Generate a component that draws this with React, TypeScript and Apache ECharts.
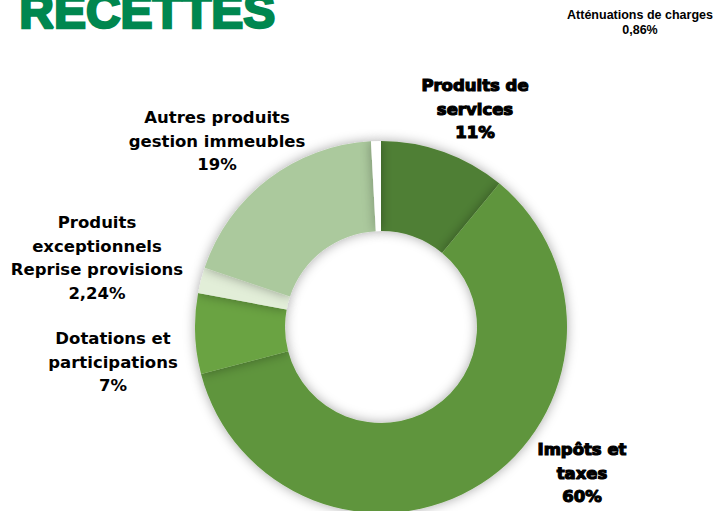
import React, { useEffect, useRef } from "react";
import * as echarts from "echarts";

const categories = [
  "Produits de\nservices",
  "Impôts et\ntaxes",
  "Dotations et\nparticipations",
  "Produits\nexceptionnels\nReprise provisions",
  "Autres produits\ngestion immeubles",
  "Atténuations de charges",
];
const values = [11, 60, 7, 2.24, 19, 0.86];
const percentLabels = ["11%", "60%", "7%", "2,24%", "19%", "0,86%"];
const colors = ["#507F34", "#5E953C", "#6AA342", "#E2EED8", "#ABC99D", "#FFFFFF"];

const labelPos: [number, number][] = [
  [475, 109],
  [582, 473],
  [113, 362],
  [97, 258],
  [217, 141],
  [640, 22],
];

export default function App() {
  const ref = useRef<HTMLDivElement>(null);
  useEffect(() => {
    if (!ref.current) return;
    const chart = echarts.init(ref.current, null, { renderer: "svg" });
    const heavy = [0, 1];
    chart.setOption({
      animation: false,
      backgroundColor: "#ffffff",
      graphic: [
        {
          type: "text",
          left: 18,
          top: -14,
          style: {
            text: "RECETTES",
            fill: "#00874F",
            font: "bold 48px 'Liberation Sans', Arial, sans-serif",
            stroke: "#00874F",
            lineWidth: 2.5,
          },
        },
      ],
      series: [
        {
          type: "pie",
          center: [381, 327],
          radius: [96, 186],
          startAngle: 90,
          clockwise: true,
          avoidLabelOverlap: false,
          labelLine: { show: false },
          itemStyle: {
            shadowBlur: 12,
            shadowColor: "rgba(0,0,0,0.35)",
          },
          data: categories.map((name, i) => ({
            name,
            value: values[i],
            itemStyle: { color: colors[i] },
            label: {
              show: true,
              position: "outside",
              formatter: name + "\n" + percentLabels[i],
              color: "#000",
              fontFamily:
                i === 5
                  ? "'Liberation Sans', Arial, sans-serif"
                  : "'DejaVu Sans', sans-serif",
              fontWeight: "bold",
              fontSize: i === 5 ? 12.5 : 16.5,
              lineHeight: i === 5 ? 15 : 23.5,
              align: "center",
              textBorderColor: heavy.includes(i) ? "#000" : "transparent",
              textBorderWidth: heavy.includes(i) ? 1.2 : 0,
            },
          })),
          labelLayout: (params: any) => {
            const p = labelPos[params.dataIndex];
            return { x: p[0], y: p[1], align: "center", verticalAlign: "middle" };
          },
        },
      ],
    });
    return () => chart.dispose();
  }, []);
  return (
    <div
      ref={ref}
      style={{ position: "fixed", left: 0, top: 0, width: 715, height: 511 }}
    />
  );
}
